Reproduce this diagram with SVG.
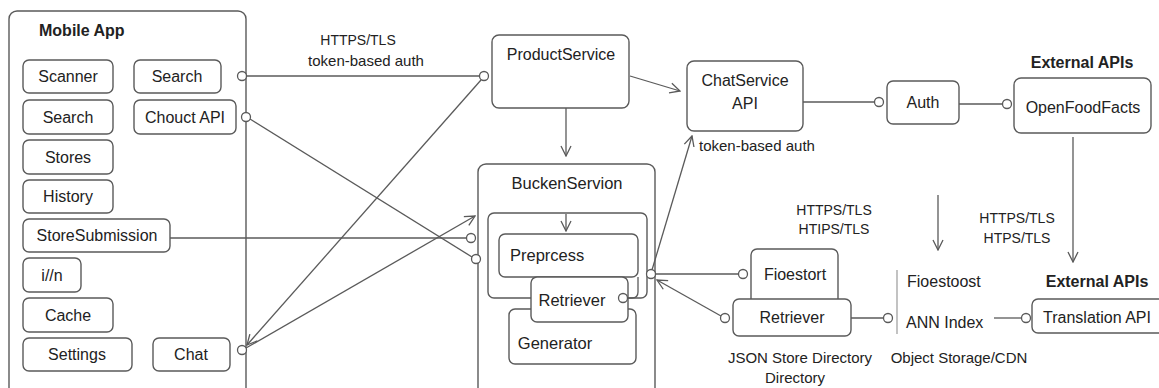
<svg xmlns="http://www.w3.org/2000/svg" width="1159" height="388" viewBox="0 0 1159 388">
  <style>
    .box { fill: #ffffff; stroke: #5a5a5a; stroke-width: 1.4; }
    .frame { fill: none; stroke: #5a5a5a; stroke-width: 1.4; }
    .wire { fill: none; stroke: #5a5a5a; stroke-width: 1.3; }
    .arrow { fill: none; stroke: #5a5a5a; stroke-width: 1.3; marker-end: url(#open); }
    .port { fill: #ffffff; stroke: #5a5a5a; stroke-width: 1.3; }
    text { font-family: "Liberation Sans", Arial, sans-serif; fill: #222222; font-size: 16px; }
    .c { text-anchor: middle; }
    .title { font-weight: bold; }
    .note { font-size: 14px; }
    .note15 { font-size: 15px; }
  </style>
  <defs>
    <marker id="open" viewBox="0 0 12 12" refX="11" refY="6" markerWidth="12" markerHeight="12" markerUnits="userSpaceOnUse" orient="auto">
      <path d="M1,1 L11,6 L1,11" fill="none" stroke="#5a5a5a" stroke-width="1.3"/>
    </marker>
  </defs>

  <rect width="1159" height="388" fill="#ffffff"/>

  <!-- Mobile App container -->
  <g id="mobile-app">
    <rect class="frame" x="9" y="11" width="237" height="390" rx="8"/>
    <text x="39" y="36" class="title">Mobile App</text>
  </g>
  <g id="scanner"><rect class="box" x="23" y="60" width="90" height="33" rx="6"/><text class="c" x="68" y="82">Scanner</text></g>
  <g id="search-top"><rect class="box" x="134" y="60" width="87" height="33" rx="6"/><text class="c" x="177" y="82">Search</text></g>
  <g id="search"><rect class="box" x="23" y="100" width="90" height="34" rx="6"/><text class="c" x="68" y="123">Search</text></g>
  <g id="chouct-api"><rect class="box" x="134" y="100" width="102" height="34" rx="6"/><text class="c" x="185" y="123">Chouct API</text></g>
  <g id="stores"><rect class="box" x="23" y="140" width="90" height="34" rx="6"/><text class="c" x="68" y="163">Stores</text></g>
  <g id="history"><rect class="box" x="23" y="180" width="90" height="33" rx="6"/><text class="c" x="68" y="202">History</text></g>
  <g id="store-submission"><rect class="box" x="23" y="219" width="147" height="33" rx="6"/><text class="c" x="97" y="241">StoreSubmission</text></g>
  <g id="i18n"><rect class="box" x="23" y="258" width="58" height="34" rx="6"/><text class="c" x="52" y="281">i//n</text></g>
  <g id="cache"><rect class="box" x="23" y="298" width="90" height="34" rx="6"/><text class="c" x="68" y="321">Cache</text></g>
  <g id="settings"><rect class="box" x="23" y="338" width="109" height="33" rx="6"/><text class="c" x="77" y="360">Settings</text></g>
  <g id="chat"><rect class="box" x="153" y="338" width="77" height="33" rx="6"/><text class="c" x="191" y="360">Chat</text></g>

  <!-- Services -->
  <g id="product-service">
    <rect class="box" x="492" y="35" width="137" height="73" rx="7"/>
    <text class="c" x="561" y="60">ProductService</text>
  </g>

  <g id="bucken-servion">
    <rect class="box" x="478" y="164" width="177" height="240" rx="8"/>
    <text class="c" x="567" y="189" style="font-size:16.5px">BuckenServion</text>
    <rect class="frame" x="488" y="213" width="159" height="85" rx="6"/>
  </g>
  <g id="preprocess">
    <rect class="box" x="499" y="234" width="139" height="43" rx="6"/>
    <text x="510" y="261" style="font-size:16.5px">Preprcess</text>
  </g>
  <g id="generator">
    <rect class="box" x="509" y="309" width="127" height="55" rx="6"/>
    <text class="c" x="555" y="349" style="font-size:16.5px">Generator</text>
  </g>
  <g id="retriever-inner">
    <rect class="box" x="531" y="277" width="97" height="45" rx="6"/>
    <text class="c" x="572" y="306" style="font-size:16.5px">Retriever</text>
  </g>

  <g id="chat-service-api">
    <rect class="box" x="687" y="61" width="116" height="70" rx="7"/>
    <text class="c" x="745" y="86">ChatService</text>
    <text class="c" x="745" y="109">API</text>
  </g>
  <g id="auth">
    <rect class="box" x="887" y="81" width="72" height="43" rx="6"/>
    <text class="c" x="923" y="108">Auth</text>
  </g>
  <g id="open-food-facts">
    <text class="c title" x="1082" y="68">External APIs</text>
    <rect class="box" x="1014" y="78" width="137" height="55" rx="7"/>
    <text class="c" x="1083" y="113">OpenFoodFacts</text>
  </g>

  <g id="fioestort">
    <rect class="box" x="751" y="249" width="87" height="56" rx="6"/>
    <text class="c" x="795" y="280">Fioestort</text>
  </g>
  <g id="retriever-store">
    <rect class="box" x="733" y="299" width="118" height="37" rx="6"/>
    <text class="c" x="792" y="323">Retriever</text>
    <text class="c" x="800" y="363" style="font-size:15px">JSON Store Directory</text>
    <text class="c" x="795" y="383" style="font-size:15px">Directory</text>
  </g>

  <g id="object-storage">
    <line x1="897" y1="270" x2="897" y2="334" stroke="#9a9a9a" stroke-width="1.2"/>
    <text x="907" y="287">Fioestoost</text>
    <text x="906" y="328">ANN Index</text>
    <text class="c" x="959" y="363" style="font-size:15px">Object Storage/CDN</text>
  </g>

  <g id="translation-api">
    <text class="c title" x="1097" y="287">External APIs</text>
    <rect class="box" x="1032" y="299" width="140" height="34" rx="6"/>
    <text class="c" x="1097" y="323">Translation API</text>
  </g>

  <!-- Connectors -->
  <g id="connectors">
    <!-- Search -> ProductService -->
    <line class="wire" x1="246" y1="76" x2="480" y2="76"/>
    <!-- Chouct API -> BuckenServion -->
    <line class="wire" x1="250" y1="119" x2="472" y2="257"/>
    <!-- StoreSubmission -> BuckenServion -->
    <line class="wire" x1="170" y1="238" x2="467" y2="238"/>
    <!-- ProductService -> Chat -->
    <line class="arrow" x1="481" y1="80" x2="247" y2="345"/>
    <!-- Chat -> BuckenServion -->
    <line class="arrow" x1="246" y1="348" x2="475" y2="216"/>
    <!-- ProductService -> BuckenServion -->
    <line class="arrow" x1="566" y1="108" x2="566" y2="156"/>
    <!-- inner pipeline -->
    <line class="arrow" x1="566" y1="214" x2="566" y2="231"/>
    <!-- ProductService -> ChatService -->
    <line class="arrow" x1="630" y1="76" x2="680" y2="91"/>
    <!-- BuckenServion -> ChatService -->
    <line class="arrow" x1="652" y1="270" x2="692" y2="136"/>
    <text x="699" y="151" class="note15">token-based auth</text>
    <!-- inner retriever link -->
    <path class="wire" d="M627,298 H632 Q638,298 638,292 V277"/>
    <!-- BuckenServion -> Fioestort -->
    <line class="wire" x1="655" y1="274" x2="739" y2="274"/>
    <!-- Retriever -> BuckenServion -->
    <line class="arrow" x1="721" y1="316" x2="657" y2="280"/>
    <!-- Retriever -> ANN Index -->
    <line class="wire" x1="851" y1="318" x2="884" y2="318"/>
    <!-- ANN Index -> Translation API -->
    <line class="wire" x1="994" y1="318" x2="1022" y2="318"/>
    <!-- ChatService -> Auth -->
    <line class="wire" x1="803" y1="102" x2="875" y2="102"/>
    <!-- Auth -> OpenFoodFacts -->
    <line class="wire" x1="959" y1="104" x2="1003" y2="104"/>
    <!-- downward flows -->
    <line class="arrow" x1="938" y1="195" x2="938" y2="250"/>
    <line class="arrow" x1="1073" y1="137" x2="1073" y2="262"/>

    <text class="c note" x="358" y="45">HTTPS/TLS</text>
    <text class="c note15" x="366" y="66">token-based auth</text>
    <text class="c note" x="834" y="215">HTTPS/TLS</text>
    <text class="c note" x="834" y="234">HTIPS/TLS</text>
    <text class="c note" x="1017" y="223">HTTPS/TLS</text>
    <text class="c note" x="1017" y="243">HTPS/TLS</text>

    <!-- ports -->
    <circle class="port" cx="242" cy="76" r="4.5"/>
    <circle class="port" cx="246" cy="117" r="4.5"/>
    <circle class="port" cx="242" cy="350" r="4.5"/>
    <circle class="port" cx="484" cy="76" r="4.5"/>
    <circle class="port" cx="471" cy="238" r="4.5"/>
    <circle class="port" cx="476" cy="259" r="4.5"/>
    <circle class="port" cx="623" cy="298" r="4.5"/>
    <circle class="port" cx="651" cy="274" r="4.5"/>
    <circle class="port" cx="743" cy="274" r="4.5"/>
    <circle class="port" cx="725" cy="318" r="4.5"/>
    <circle class="port" cx="888" cy="318" r="4.5"/>
    <circle class="port" cx="1026" cy="318" r="4.5"/>
    <circle class="port" cx="879" cy="102" r="4.5"/>
    <circle class="port" cx="1007" cy="104" r="4.5"/>
  </g>
</svg>
